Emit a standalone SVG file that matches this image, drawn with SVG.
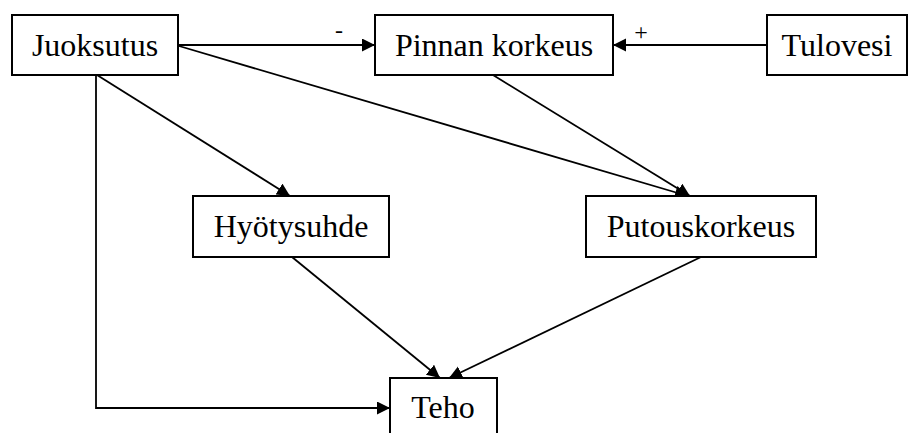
<svg xmlns="http://www.w3.org/2000/svg" width="909" height="433" viewBox="0 0 909 433">
<style>
.box{fill:#fff;stroke:#000;stroke-width:2}
.lbl{font-family:"Liberation Serif","Times New Roman",serif;font-size:32px;text-anchor:middle;fill:#000}
.sign{font-family:"Liberation Serif","Times New Roman",serif;font-size:24px;text-anchor:middle;fill:#000}
.con{fill:none;stroke:#000;stroke-width:1.8}
</style>
<defs>
<marker id="arr" markerUnits="userSpaceOnUse" markerWidth="14" markerHeight="14" refX="13" refY="6.5" orient="auto">
<path d="M0,0 L13,6.5 L0,13 z" fill="#000"/>
</marker>
</defs>
<rect width="909" height="433" fill="#fff"/>
<g id="connectors">
<line class="con" x1="178" y1="45" x2="375" y2="45" marker-end="url(#arr)"/>
<line class="con" x1="767" y1="45" x2="613" y2="45" marker-end="url(#arr)"/>
<line class="con" x1="179" y1="46" x2="688" y2="196" marker-end="url(#arr)"/>
<line class="con" x1="493" y1="75" x2="690" y2="196" marker-end="url(#arr)"/>
<line class="con" x1="97" y1="75" x2="290" y2="196" marker-end="url(#arr)"/>
<polyline class="con" points="96,75 96,408 390,408" marker-end="url(#arr)"/>
<line class="con" x1="292" y1="257" x2="440" y2="378" marker-end="url(#arr)"/>
<line class="con" x1="701" y1="257" x2="449" y2="378" marker-end="url(#arr)"/>
<text class="sign" x="339" y="38">-</text>
<text class="sign" x="641" y="40">+</text>
</g>
<g id="juoksutus">
<rect class="box" x="12" y="15" width="166" height="60"/>
<text class="lbl" x="95" y="56">Juoksutus</text>
</g>
<g id="pinnan-korkeus">
<rect class="box" x="375" y="15" width="238" height="60"/>
<text class="lbl" x="494" y="56">Pinnan korkeus</text>
</g>
<g id="tulovesi">
<rect class="box" x="767" y="15" width="140" height="60"/>
<text class="lbl" x="837" y="56">Tulovesi</text>
</g>
<g id="hyotysuhde">
<rect class="box" x="193" y="196" width="196" height="61"/>
<text class="lbl" x="291" y="237">Hyötysuhde</text>
</g>
<g id="putouskorkeus">
<rect class="box" x="586" y="196" width="230" height="61"/>
<text class="lbl" x="701" y="237">Putouskorkeus</text>
</g>
<g id="teho">
<rect class="box" x="390" y="378" width="107" height="61"/>
<text class="lbl" x="443" y="418">Teho</text>
</g>
</svg>
